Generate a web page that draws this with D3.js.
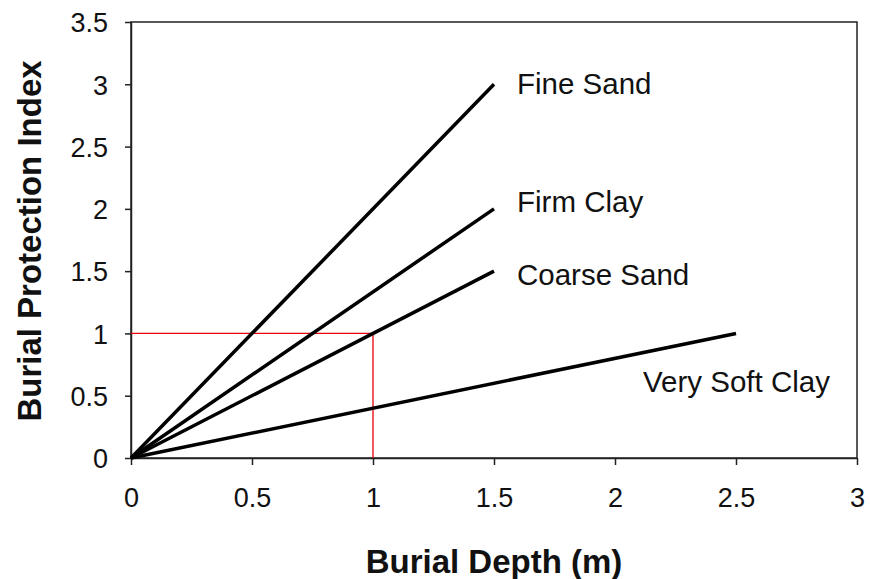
<!DOCTYPE html>
<html><head><meta charset="utf-8">
<script src="https://cdn.jsdelivr.net/npm/d3@7"></script>
<style>body{margin:0;background:#fff;}svg{display:block;font-family:"Liberation Sans",Arial,sans-serif;}</style>
</head><body>
<svg id="c" width="870" height="579"></svg>
<script>
const soilNames = ["Fine Sand", "Firm Clay", "Coarse Sand", "Very Soft Clay"];
const endDepth = [1.5, 1.5, 1.5, 2.5];
const endIndex = [3, 2, 1.5, 1];
const xTicks = [0, 0.5, 1, 1.5, 2, 2.5, 3];
const yTicks = [0, 0.5, 1, 1.5, 2, 2.5, 3, 3.5];
const refDepth = 1, refIndex = 1;

const svg = d3.select("#c");
const L = 131, R = 857, T = 22, B = 458;
const x = d3.scaleLinear().domain([0, 3]).range([L, R]);
const y = d3.scaleLinear().domain([0, 3.5]).range([B, T]);

// frame
svg.append("rect").attr("x", L).attr("y", T).attr("width", R - L).attr("height", B - T)
  .attr("fill", "none").attr("stroke", "#222").attr("stroke-width", 1.5);

const xa = svg.append("g").attr("transform", `translate(0,${B})`)
  .call(d3.axisBottom(x).tickValues(xTicks).tickFormat(d3.format("")).tickSize(7).tickSizeOuter(0));
const ya = svg.append("g").attr("transform", `translate(${L},0)`)
  .call(d3.axisLeft(y).tickValues(yTicks).tickFormat(d3.format("")).tickSize(6).tickSizeOuter(0));
[xa, ya].forEach(a => {
  a.select(".domain").attr("stroke", "#222").attr("stroke-width", 1.5);
  a.selectAll(".tick line").attr("stroke", "#222").attr("stroke-width", 1.5);
  a.selectAll("text").attr("font-size", 27).attr("fill", "#111").attr("font-family", "Liberation Sans, Arial, sans-serif");
});
xa.selectAll("text").attr("y", 49).attr("dy", 0);
ya.selectAll("text").attr("x", -23).attr("dy", "0.36em");

// red reference lines
svg.append("path")
  .attr("d", `M${x(0)},${y(refIndex)}H${x(refDepth)}V${y(0)}`)
  .attr("fill", "none").attr("stroke", "#e8000b").attr("stroke-width", 1.3);

// soil lines
const g = svg.append("g");
soilNames.forEach((n, i) => {
  g.append("line").attr("x1", x(0)).attr("y1", y(0))
    .attr("x2", x(endDepth[i])).attr("y2", y(endIndex[i]))
    .attr("stroke", "#000").attr("stroke-width", 3.5).attr("stroke-linecap", "butt");
});

// labels
const labelPos = [[517, 94], [517, 212], [517, 285], [643, 392]];
soilNames.forEach((n, i) => {
  svg.append("text").attr("x", labelPos[i][0]).attr("y", labelPos[i][1])
    .attr("font-size", 29.5).attr("fill", "#111").text(n);
});

svg.append("text").attr("x", 494).attr("y", 573).attr("text-anchor", "middle")
  .attr("font-size", 33).attr("font-weight", "bold").attr("fill", "#111").text("Burial Depth (m)");
svg.append("text").attr("transform", "translate(41,241) rotate(-90)").attr("text-anchor", "middle")
  .attr("font-size", 33).attr("font-weight", "bold").attr("fill", "#111").text("Burial Protection Index");
</script>
</body></html>
